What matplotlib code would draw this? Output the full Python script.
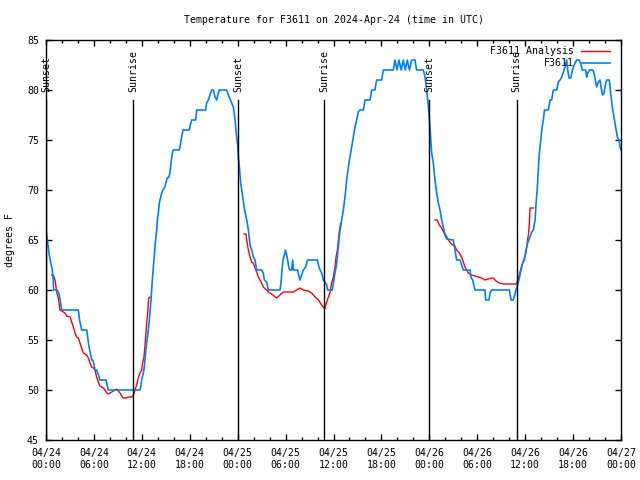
import numpy as np
import matplotlib
matplotlib.use("Agg")
import matplotlib.pyplot as plt

# ---------------- data (hours since 2024-04-24 00:00 UTC) ----------------
blue_hours = [0.0, 0.16, 0.41, 0.66, 0.79, 0.91, 0.95, 1.41, 1.67, 1.97, 4.04, 4.2, 4.47, 5.10, 5.35,
              5.72, 5.85, 5.97, 6.14, 6.34, 6.47, 6.59, 6.72, 7.51, 7.8, 11.77, 11.85, 11.98, 12.19,
              12.31, 12.44, 12.61, 12.81, 12.94, 13.15, 13.27, 13.44, 13.57, 13.69, 13.86, 13.94, 14.07,
              14.19, 14.36, 14.53, 14.69, 14.90, 15.03, 15.19, 15.40, 15.53, 15.65, 15.82, 15.94, 16.70,
              16.82, 16.99, 17.16, 17.95, 18.07, 18.24, 18.74, 18.87, 19.99, 20.12, 20.33, 20.45, 20.62,
              20.75, 20.96, 21.16, 21.37, 21.58, 21.70, 22.62, 22.83, 23.04, 23.25, 23.46, 23.67, 23.87,
              24.0, 24.09, 24.21, 24.38, 24.63, 24.88, 25.13, 25.34, 25.55, 25.75, 25.96, 26.17, 26.38,
              27.0, 27.21, 27.34, 27.63, 27.84, 29.3, 29.43, 29.55, 29.68, 29.85, 29.97, 30.14, 30.26,
              30.39, 30.51, 30.76, 30.89, 30.97, 31.51, 31.64, 31.81, 32.02, 32.22, 32.52, 32.73, 33.98,
              34.11, 34.31, 34.52, 34.73, 34.94, 35.15, 35.27, 35.85, 35.98, 36.19, 36.40, 36.52, 36.65,
              36.82, 37.02, 37.23, 37.44, 37.65, 37.86, 38.07, 38.27, 38.48, 38.69, 38.90, 39.11, 39.32,
              39.74, 39.94, 40.57, 40.78, 41.19, 41.40, 42.03, 42.24, 43.49, 43.70, 43.95, 44.20, 44.47,
              44.74, 44.99, 45.24, 45.51, 45.79, 46.2, 46.4, 47.25, 47.46, 47.67, 47.88, 48.08, 48.29,
              48.50, 48.71, 48.92, 49.13, 49.34, 49.54, 49.75, 49.96, 50.17, 51.0, 51.21, 51.42, 51.84,
              52.05, 52.25, 53.09, 53.21, 53.42, 53.71, 54.97, 55.05, 55.47, 55.60, 55.80, 58.02, 58.23,
              58.52, 58.69, 58.86, 59.06, 59.27, 59.48, 59.69, 59.90, 60.11, 60.31, 60.61, 60.82, 61.03,
              61.24, 61.37, 61.53, 61.66, 61.78, 61.95, 62.12, 62.28, 62.41, 62.91, 63.11, 63.32, 63.53,
              63.95, 64.16, 64.37, 64.58, 64.79, 64.99, 65.20, 65.33, 65.49, 65.70, 65.83, 66.04, 66.25,
              66.45, 66.78, 66.99, 67.16, 67.58, 67.70, 67.83, 68.04, 68.45, 68.62, 68.79, 68.95, 69.16,
              69.37, 69.49, 69.70, 69.87, 70.04, 70.20, 70.54, 70.70, 70.91, 71.12, 71.33, 71.54, 71.75,
              71.87, 72.0]
blue_temp = [66, 65, 63.5, 62.5, 62, 61, 60, 60, 59.5, 58, 58, 57, 56, 56, 54.5,
             53, 53, 52.7, 52, 52, 51.7, 51.5, 51, 51, 50, 50, 50.3, 51, 51.7,
             52.3, 53.5, 54.7, 56, 57, 59, 60.5, 62.3, 63.5, 64.7, 66, 67, 67.7,
             68.7, 69.3, 69.8, 70.1, 70.3, 70.8, 71.2, 71.3, 71.8, 72.7, 73.7, 74, 74,
             74.5, 75.3, 76, 76, 76.5, 77, 77, 78, 78, 78.7, 79, 79.3, 79.7,
             80, 80, 79.3, 79, 79.7, 80, 80, 79.5, 79.1, 78.7, 78.3, 77, 75.3,
             74.5, 73.3, 72.3, 70.7, 69.3, 68, 67, 66, 64.5, 64, 63.3, 63, 62,
             62, 61.7, 61, 60.8, 60, 60, 60.7, 62, 63, 63.5, 64, 63.5, 63,
             62.3, 62, 62, 63, 62, 62, 61.5, 61, 61.5, 62, 62.3, 63, 63,
             62.5, 62, 61.7, 61, 60.8, 60.5, 60, 60, 60.7, 61.7, 62.7, 63.7, 64.7,
             66, 67, 68, 69.3, 71, 72.3, 73.3, 74.3, 75.3, 76.3, 77, 77.8, 78,
             78, 79, 79, 80, 80, 81, 81, 82, 82, 83, 82, 83, 82,
             83, 82, 83, 82, 83, 83, 82, 82, 81.3, 80, 78.3, 76.3, 73.7,
             72.7, 71, 69.7, 68.7, 68, 67, 66.3, 65.5, 65.1, 65, 64, 63, 63,
             62.5, 62, 62, 61.3, 61, 60, 60, 59, 59, 59.7, 60, 60, 59,
             59, 59.5, 60, 60.5, 61.2, 62, 62.7, 63, 64, 64.7, 65.3, 65.8, 66,
             67, 68.7, 70.3, 72.3, 73.7, 75, 76.3, 77, 78, 78, 79, 79, 80,
             80, 80.8, 81, 81.3, 81.8, 82.3, 83, 82, 81.2, 81.2, 81.7, 82.3, 82.7,
             83, 83, 82.5, 82, 82, 81.3, 81.7, 82, 82, 81.7, 81, 80.3, 80.8,
             81, 80.3, 79.5, 79.7, 80.5, 81, 81, 79.7, 78.3, 77.3, 76.3, 75.3, 75,
             74.3, 74]

nan = float("nan")
red_hours = [0.71, 0.92, 1.13, 1.34, 1.54, 1.75, 1.96, 2.38, 2.59, 3.01, 3.21, 3.42, 3.63, 3.84, 4.05,
             4.26, 4.47, 4.67, 5.09, 5.30, 5.51, 5.72, 5.93, 6.14, 6.34, 6.55, 6.76, 6.97, 7.18, 7.39,
             7.60, 7.81, 8.01, 8.22, 8.43, 8.64, 8.85, 9.06, 9.27, 9.47, 9.68, 10.02, 10.31, 10.73,
             10.94, 11.14, 11.35, 11.56, 11.77, 11.98, 12.10, 12.27, 12.40, 12.52, 12.61, 12.73, 12.86,
             13.02, nan,
             24.79, 25.04, 25.13, 25.34, 25.55, 25.75, 25.96, 26.17, 26.38, 26.59, 26.80, 27.0, 27.21,
             27.63, 27.84, 28.26, 28.68, 28.88, 29.30, 29.72, 30.97, 31.39, 31.81, 32.22, 32.85, 33.27,
             33.69, 34.11, 34.52, 34.81, 34.94, 35.15, 35.36, 35.57, 35.77, 35.98, 36.19, 36.32, 36.49,
             36.61, 36.74, 36.9, nan,
             48.71, 49.0, 49.25, 49.54, 49.84, 50.05, 50.38, 50.67, 50.92, 51.13, 51.42, 51.75, 52.05,
             52.25, 52.46, 52.67, 52.88, 53.30, 53.71, 54.13, 54.55, 54.97, 55.39, 55.80, 56.01, 56.35,
             56.77, 57.27, 58.94, 59.06, 59.27, 59.48, 59.69, 59.90, 60.11, 60.27, 60.40, 60.5, 60.61,
             61.03]
red_temp = [61.5, 61.5, 61, 59.8, 59.2, 58, 57.9, 57.7, 57.4, 57.3, 56.8, 56.3, 55.7, 55.3, 55.2,
            54.7, 54.2, 53.7, 53.5, 53.2, 52.7, 52.3, 52.2, 52.0, 51.3, 50.8, 50.4, 50.3, 50.2, 50.0,
            49.7, 49.6, 49.7, 49.8, 49.9, 50.0, 50.1, 49.9, 49.7, 49.4, 49.2, 49.2, 49.3, 49.3,
            49.5, 50.0, 50.5, 51.2, 51.7, 52.0, 52.7, 53.3, 54.5, 55.7, 56.7, 57.7, 59.2,
            59.3, nan,
            65.6, 65.6, 65, 64, 63.3, 62.8, 62.7, 62.2, 61.8, 61.3, 61, 60.7, 60.3,
            60, 59.8, 59.6, 59.3, 59.2, 59.5, 59.8, 59.8, 60, 60.2, 60, 59.9, 59.7,
            59.3, 59, 58.5, 58.2, 58.2, 58.8, 59.3, 59.8, 60.7, 61.3, 62.3, 63.3, 64,
            65, 66, 66.7, nan,
            67, 67, 66.5, 66.2, 65.7, 65.5, 65, 64.7, 64.5, 64.5, 64, 63.7, 63.3,
            62.8, 62.3, 62, 61.7, 61.5, 61.4, 61.3, 61.2, 61, 61.1, 61.2, 61.2, 60.9,
            60.7, 60.6, 60.6, 61, 61.5, 62.2, 62.7, 63.2, 63.8, 64.8, 65.5, 66.3, 68.2,
            68.2]

event_hours = [0.0, 10.92, 24.07, 34.86, 47.99, 58.93]
event_labels = ["Sunset", "Sunrise", "Sunset", "Sunrise", "Sunset", "Sunrise"]

xtick_hours = [0, 6, 12, 18, 24, 30, 36, 42, 48, 54, 60, 66, 72]
xtick_labels = ["04/24\n00:00", "04/24\n06:00", "04/24\n12:00", "04/24\n18:00",
                "04/25\n00:00", "04/25\n06:00", "04/25\n12:00", "04/25\n18:00",
                "04/26\n00:00", "04/26\n06:00", "04/26\n12:00", "04/26\n18:00",
                "04/27\n00:00"]
ytick_values = [45, 50, 55, 60, 65, 70, 75, 80, 85]

# ---------------- plot ----------------
FONT = "DejaVu Sans Mono"
FS = 7.1
plt.rcParams['font.family'] = [FONT]

fig = plt.figure(figsize=(6.4, 4.8), dpi=100)
ax = fig.add_axes([46/640, 1-440/480, (621-46)/640, 400/480])

ax.plot(red_hours, red_temp, color="#ff0000", lw=1.0, label="F3611 Analysis")
ax.plot(blue_hours, blue_temp, color="#0080ff", lw=1.2, label="F3611")

for h, lab in zip(event_hours, event_labels):
    ax.plot([h, h], [45, 79], color="black", lw=1.0)
    ax.text(h, 79.8, lab, rotation=90, ha="center", va="bottom", fontsize=FS, clip_on=False)

ax.set_xlim(0, 72)
ax.set_ylim(45, 85)
ax.set_xticks(xtick_hours)
ax.set_xticklabels(xtick_labels, fontsize=FS)
ax.set_xticks(np.arange(0, 73, 2), minor=True)
ax.set_yticks(ytick_values)
ax.set_yticklabels([str(v) for v in ytick_values], fontsize=FS)
ax.tick_params(which="both", direction="in", top=True, right=True, width=1)
ax.tick_params(which="major", length=4)
ax.tick_params(which="minor", length=2)
ax.tick_params(axis="x", which="major", pad=6)
ax.tick_params(axis="y", which="major", pad=5)
for s in ax.spines.values():
    s.set_linewidth(1.0)

leg = ax.legend(loc="upper right", bbox_to_anchor=(610/640, 1-46/480),
                bbox_transform=fig.transFigure, frameon=False, markerfirst=False,
                fontsize=FS, handlelength=2.9, handletextpad=0.8, labelspacing=0.25,
                borderpad=0, borderaxespad=0)

fig.text((46+621)/2/640, 1-20/480, "Temperature for F3611 on 2024-Apr-24 (time in UTC)",
         ha="center", va="center", fontsize=FS)
fig.text(10/640, 1-240/480, "degrees F", rotation=90, ha="center", va="center", fontsize=FS)

fig.savefig("out.png", dpi=100)
